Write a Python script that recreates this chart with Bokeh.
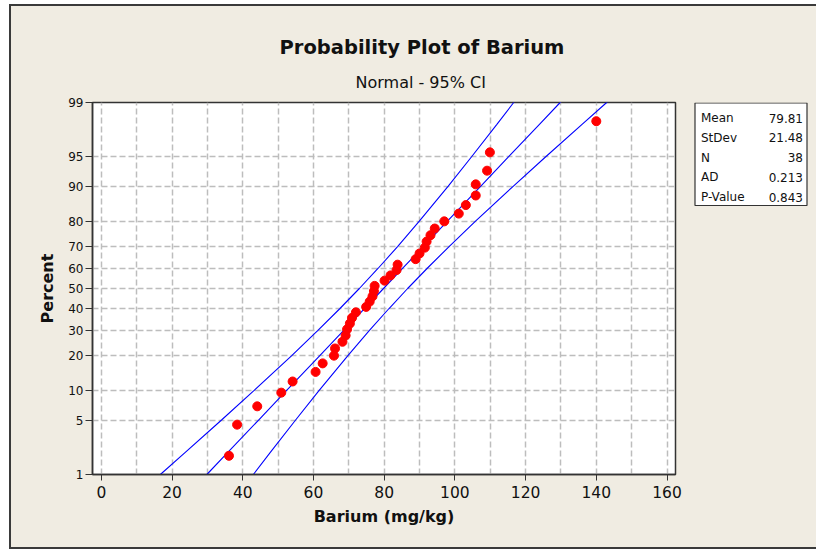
from statistics import NormalDist
from bokeh.plotting import figure
from bokeh.layouts import row
from bokeh.models import (Range1d, FixedTicker, CustomJSTickFormatter, Title,
                          ColumnDataSource)
from bokeh.core.properties import value
from bokeh.embed import file_html
from bokeh.resources import INLINE

# ---- data ----
barium = [36.1, 38.4, 44.1, 50.9, 54.1, 60.6, 62.6, 65.8, 66.1, 68.2,
          69.1, 69.5, 70.3, 70.9, 72.0, 74.9, 75.9, 76.7, 77.1, 77.3,
          80.1, 81.8, 83.5, 83.8, 88.9, 90.0, 91.5, 92.0, 93.1, 94.3,
          97.0, 101.1, 103.1, 105.9, 105.9, 109.1, 109.9, 140.0]
percent = [1.82, 4.43, 7.03, 9.64, 12.24, 14.84, 17.45, 20.05, 22.66, 25.26,
           27.86, 30.47, 33.07, 35.68, 38.28, 40.89, 43.49, 46.09, 48.70, 51.30,
           53.91, 56.51, 59.11, 61.72, 64.32, 66.93, 69.53, 72.14, 74.74, 77.34,
           79.95, 82.55, 85.16, 87.76, 90.36, 92.97, 95.57, 98.18]

ci_percent = [0.5, 1, 2, 5, 10, 20, 30, 40, 50, 60, 70, 80, 90, 95, 98, 99, 99.5]
ci_lower = [10.29, 16.69, 23.66, 34.00, 43.07, 53.78, 61.26, 67.43, 72.98, 78.31,
            83.79, 89.94, 98.12, 104.67, 111.88, 116.63, 120.95]
fit_line = [24.48, 29.84, 35.70, 44.48, 52.28, 61.73, 68.55, 74.37, 79.81, 85.25,
            91.07, 97.89, 107.34, 115.14, 123.92, 129.78, 135.14]
ci_upper = [38.67, 42.99, 47.74, 54.95, 61.50, 69.68, 75.83, 81.31, 86.64, 92.19,
            98.36, 105.84, 116.56, 125.62, 135.97, 142.93, 149.33]

y_tick_percent = [1, 5, 10, 20, 30, 40, 50, 60, 70, 80, 90, 95, 99]
x_ticks = [0, 20, 40, 60, 80, 100, 120, 140, 160]

stat_names = ["Mean", "StDev", "N", "AD", "P-Value"]
stat_values = ["79.81", "21.48", "38", "0.213", "0.843"]

title_text = "Probability Plot of Barium"
subtitle_text = "Normal - 95% CI"

# ---- probability (normal) scale ----
nd = NormalDist()
def probit(pct):
    return nd.inv_cdf(pct / 100.0)

FONT = "DejaVu Sans"
BG = "#F0ECE2"
INK = "#111111"
EDGE = "#3a3a3a"

MAIN_W, SIDE_W, H = 685, 131, 550
FRAME_TOP, FRAME_BOTTOM = 102, 474

p = figure(width=MAIN_W, height=H,
           x_range=Range1d(-2.5, 162.4),
           y_range=Range1d(probit(1), probit(99)),
           output_backend="svg", toolbar_location=None,
           min_border_left=92, min_border_right=10,
           min_border_top=FRAME_TOP, min_border_bottom=H - FRAME_BOTTOM,
           background_fill_color="white",
           border_fill_color=BG, border_fill_alpha=0.0)

p.outline_line_color = "#333333"
p.outline_line_width = 1.5
p.outline_line_alpha = 1.0

# titles: main title farthest from the frame, subtitle right above the frame
p.title.text = title_text
p.title.align = "left"
p.title.offset = 187
p.title.standoff = 4
p.title.text_font = FONT
p.title.text_font_size = "19.5px"
p.title.text_font_style = "bold"
p.title.text_color = INK
p.add_layout(Title(text=subtitle_text, align="left", offset=263, standoff=21,
                   text_font=FONT, text_font_size="16px",
                   text_font_style="normal", text_color=INK), "above")

# grids
p.xgrid.ticker = FixedTicker(ticks=list(range(0, 170, 10)))
p.ygrid.ticker = FixedTicker(ticks=[probit(t) for t in y_tick_percent])
for g in (p.xgrid, p.ygrid):
    g.grid_line_color = "#bdbdbd"
    g.grid_line_width = 1.5
    g.grid_line_dash = "6 3"

# axes
p.xaxis.ticker = FixedTicker(ticks=x_ticks)
p.yaxis.ticker = FixedTicker(ticks=[probit(t) for t in y_tick_percent])
p.yaxis.formatter = CustomJSTickFormatter(
    args=dict(zs=[probit(t) for t in y_tick_percent],
              labels=[str(t) for t in y_tick_percent]),
    code="""
let best = 0;
for (let i = 0; i < zs.length; i++) {
  if (Math.abs(zs[i] - tick) < Math.abs(zs[best] - tick)) best = i;
}
return labels[best];
""")
for ax in (p.xaxis, p.yaxis):
    ax.axis_line_color = "#333333"
    ax.axis_line_width = 1.5
    ax.major_tick_line_color = "#333333"
    ax.major_tick_line_width = 1
    ax.minor_tick_line_color = None
    ax.major_tick_in = 0
    ax.major_label_text_font = FONT
    ax.major_label_text_color = INK
    ax.axis_label_text_font = FONT
    ax.axis_label_text_font_style = "bold"
    ax.axis_label_text_font_size = "16px"
    ax.axis_label_text_color = INK

p.xaxis.major_tick_out = 6
p.xaxis.major_label_standoff = 5
p.xaxis.major_label_text_font_size = "15.5px"
p.xaxis.axis_label = "Barium (mg/kg)"
p.xaxis.axis_label_standoff = 6

p.yaxis.major_tick_out = 7
p.yaxis.major_label_standoff = 2
p.yaxis.major_label_text_font_size = "12px"
p.yaxis.axis_label = "Percent"
p.yaxis.axis_label_standoff = 8

# CI band and fitted line
ci_z = [probit(v) for v in ci_percent]
for xs in (ci_lower, fit_line, ci_upper):
    p.line(x=xs, y=ci_z, line_color="#0000FF", line_width=1.1)

# data points
src = ColumnDataSource(dict(x=barium, y=[probit(v) for v in percent]))
p.scatter(x="x", y="y", source=src, size=9, fill_color="#FF0000",
          line_color="#FF0000")

# ---- side panel with the statistics box (page-pixel coordinate space;
#      its frame is aligned with the main frame by the row layout) ----
s = figure(width=SIDE_W, height=H,
           x_range=Range1d(MAIN_W, MAIN_W + SIDE_W),
           y_range=Range1d(FRAME_BOTTOM, FRAME_TOP),
           output_backend="svg", toolbar_location=None,
           x_axis_type=None, y_axis_type=None,
           min_border_left=0, min_border_right=0,
           min_border_top=0, min_border_bottom=0,
           background_fill_color=BG, background_fill_alpha=0.0,
           border_fill_color=BG, border_fill_alpha=0.0)
s.grid.visible = False
s.outline_line_color = None

s.quad(left=[694.5], right=[806.5], top=[102.5], bottom=[205],
       fill_color="white", line_color="#333333", line_width=1.2)
row_y = [117.5, 137.3, 157.1, 176.9, 196.7]
s.text(x=[700.5] * len(stat_names), y=row_y, text=stat_names,
       text_font=value(FONT), text_font_size="12px", text_align="left",
       text_baseline="middle", text_color=INK)
s.text(x=[802.5] * len(stat_values), y=row_y, text=stat_values,
       text_font=value(FONT), text_font_size="12px", text_align="right",
       text_baseline="middle", text_color=INK)

layout = row(p, s, spacing=0)
line_layer = f"linear-gradient({EDGE},{EDGE})"
fill_layer = f"linear-gradient({BG},{BG})"
layout.styles = {
    "background": ", ".join([
        f"{line_layer} 9px 4px / 2px 545px no-repeat",
        f"{line_layer} 9px 4px / 820px 2px no-repeat",
        f"{line_layer} 9px 547px / 820px 2px no-repeat",
        f"{fill_layer} 11px 6px / 810px 541px no-repeat",
        "#ffffff",
    ]),
}

open("out.html", "w").write(file_html(layout, INLINE))
